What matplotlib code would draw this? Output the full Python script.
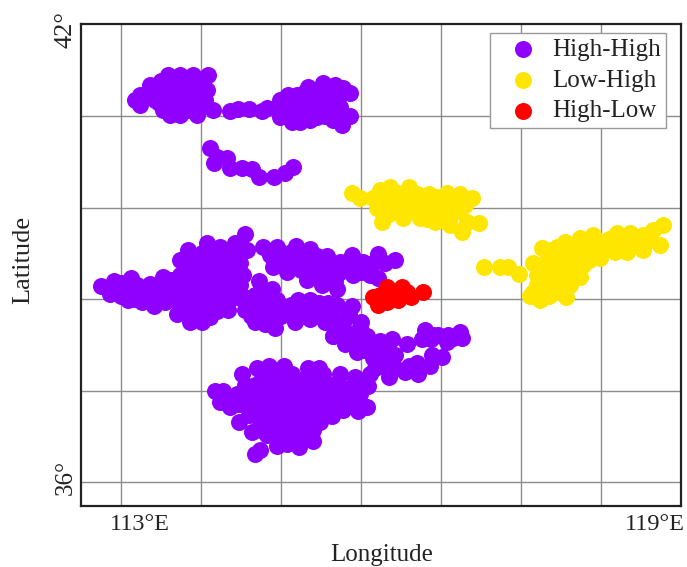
import numpy as np
import matplotlib
matplotlib.use("Agg")
import matplotlib.pyplot as plt

plt.rcParams['font.family'] = ['Liberation Serif', 'DejaVu Serif']

lon_ticks = [113, 114, 115, 116, 117, 118, 119]
lat_ticks = [36, 37.5, 39, 40.5, 42]

hh_north_west = [(113.18,42.26),(113.24,42.18),(113.24,42.34),(113.36,42.51),(113.59,42.67),(113.74,42.67),(113.90,42.67),(114.09,42.67),(114.08,42.43),(114.05,42.26),(113.95,42.02),(113.74,42.02),(113.61,42.02),(113.53,42.10),(114.15,42.10),(113.58,42.51),(113.70,42.43),(113.83,42.51),(113.95,42.51),(113.55,42.34),(113.68,42.26),(113.83,42.34),(113.95,42.26),(113.70,42.10),(113.84,42.10),(113.36,42.34),(113.43,42.26),
                 (113.48,42.42),(113.48,42.22),(113.62,42.58),(113.62,42.38),(113.62,42.18),(113.76,42.58),(113.76,42.34),(113.76,42.18),(113.90,42.42),(113.90,42.15),(114.02,42.55),(114.02,42.38),(114.02,42.16),(113.30,42.30),(113.50,42.58),(113.55,42.12)]
hh_north_east = [(114.36,42.08),(114.46,42.11),(114.60,42.11),(114.76,42.08),(114.83,42.13),(114.99,42.26),(115.09,42.34),(115.20,42.34),(115.34,42.47),(115.53,42.54),(115.68,42.51),(115.78,42.46),(115.86,42.38),(115.86,42.00),(115.76,41.85),(115.65,41.94),(115.36,41.94),(115.24,41.90),(115.14,41.90),(114.99,41.98),(114.95,42.13),(115.15,42.15),(115.33,42.21),(115.49,42.31),(115.65,42.26),(115.74,42.15),(115.40,42.05),(115.24,42.07),(115.58,42.10),(115.40,42.34),
                 (115.30,42.40),(115.45,42.42),(115.60,42.40),(115.75,42.36),(115.05,42.30),(115.20,42.25),(115.35,42.30),(115.60,42.32),(115.05,42.20),(115.20,42.18),(115.45,42.20),(115.55,42.20),(115.05,42.10),(115.15,42.05),(115.30,42.12),(115.48,42.12),(115.68,42.10),(115.10,42.00),(115.28,41.98),(115.45,41.98),(115.55,42.00),(115.70,42.00),(115.78,42.02)]
hh_strip = [(114.11,41.48),(114.20,41.33),(114.16,41.23),(114.33,41.31),(114.36,41.15),(114.51,41.15),(114.64,41.13),(114.73,41.00),(114.91,41.00),(115.05,41.07),(115.15,41.17)]
hh_central = [(112.75,39.22),(112.91,39.29),(113.13,39.34),(113.36,39.25),(113.09,38.98),(112.86,39.09),(113.26,38.96),(113.41,38.88),(113.70,38.75),(113.86,38.63),(114.01,38.63),(114.11,38.70),(114.34,38.83),(114.55,38.83),(113.53,39.37),(113.74,39.65),(113.84,39.81),(114.08,39.92),(114.24,39.86),(114.43,39.92),(114.55,40.07),(114.58,39.81),(114.49,39.60),(114.53,39.40),(114.73,39.29),(114.89,39.16),(114.68,38.63),(114.93,38.53),(115.18,38.63),(115.36,38.67),(115.55,38.62),(115.65,38.39),(115.21,38.99),(115.36,38.99),(115.59,38.94),(115.89,38.89),(116.00,38.62),
              (112.99,39.16),(113.18,39.12),(113.36,39.07),(113.55,39.16),(113.55,38.96),(113.74,39.40),(113.74,39.16),(113.74,38.91),(113.93,39.61),(113.93,39.37),(113.93,39.12),(113.93,38.88),(114.11,39.73),(114.11,39.48),(114.11,39.24),(114.11,38.99),(114.30,39.65),(114.30,39.40),(114.30,39.16),(114.30,38.94),(114.49,39.24),(114.49,39.02),(114.68,39.07),(114.68,38.86),(114.86,38.91),(114.86,38.70),(115.05,38.83),(115.24,38.83),(115.43,38.83),(115.61,38.75),(115.80,38.67),
              (113.83,39.52),(114.01,39.52),(114.20,39.52),(114.39,39.52),(114.01,39.76),(114.20,39.76),(114.39,39.76),(113.64,39.27),(113.83,39.27),(114.01,39.27),(114.20,39.27),(114.39,39.27),(113.64,39.02),(113.83,39.02),(114.01,39.02),(114.20,39.02),(114.39,39.02),(114.58,39.02),(113.83,38.80),(114.01,38.80),(114.20,38.80),
              (112.82,39.18),(113.00,39.27),(113.00,39.05),(113.20,39.24),(113.28,39.12),(113.45,39.18),(113.47,39.00),(113.62,39.32),(113.18,39.00),
              (114.80,39.10),(114.80,38.80),(114.95,38.98),(115.00,38.72),(115.12,38.90),(115.28,38.72),(115.48,38.72),(115.48,38.94),(115.70,38.90),(115.72,38.60),(115.85,38.78),(114.60,38.98),(114.78,38.98),(114.62,38.72),(114.80,38.60)]
hh_branch = [(114.78,39.86),(114.95,39.86),(115.19,39.87),(115.36,39.83),(115.58,39.70),(115.74,39.61),(115.89,39.73),(116.03,39.61),(116.21,39.74),(116.43,39.65),(114.90,39.52),(115.08,39.45),(115.33,39.32),(115.51,39.24),(115.70,39.17),(115.90,39.40),(116.11,39.40),(116.21,39.35),(115.03,39.70),(115.20,39.65),(115.39,39.56),(115.55,39.45),(115.74,39.45),(114.86,39.73),(116.08,39.53),
             (115.10,39.75),(115.28,39.75),(115.45,39.70),(115.45,39.55),(115.62,39.58),(115.62,39.35),(115.80,39.55),(115.95,39.55),(116.15,39.60),(116.30,39.60),(115.25,39.48),(115.40,39.40),(115.85,39.65),(115.05,39.58),(116.00,39.45),(115.68,39.30)]
hh_chain = [(115.65,38.40),(115.83,38.45),(115.78,38.53),(115.99,38.55),(115.95,38.14),(116.08,38.39),(116.24,38.31),(116.39,38.34),(116.58,38.27),(116.43,38.09),(116.15,38.04),(116.26,37.90),(116.35,37.72),(116.55,37.81),(116.71,37.77),(116.70,37.96),(116.86,37.90),(116.89,38.09),(117.01,38.06),(116.80,38.49),(116.76,38.34),(116.96,38.42),(117.09,38.42),(117.08,38.29),(117.24,38.47),(117.26,38.37),
            (115.85,38.30),(116.00,38.25),(116.12,38.20),(116.30,38.15),(116.20,38.05),(116.40,37.92),(116.60,37.90),(116.90,38.42),(117.15,38.36),(116.88,38.35),
            (115.80,38.26),(116.05,38.17),(115.93,38.34),(116.18,38.17),(116.30,38.09),(116.43,37.88),(116.18,37.88)]
hh_south = [(114.18,37.50),(114.28,37.49),(114.24,37.31),(114.36,37.24),(114.48,37.28),(114.51,37.77),(114.70,37.88),(114.85,37.91),(115.04,37.90),(115.34,37.88),(115.48,37.88),(115.74,37.77),(115.93,37.73),(116.11,37.77),(116.09,37.57),(116.08,37.24),(115.96,37.16),(115.78,37.19),(115.64,37.08),(115.49,36.98),(115.40,36.67),(115.23,36.57),(114.95,36.59),(115.08,36.62),(114.83,36.78),(114.64,36.82),(114.48,36.98),(114.68,36.46),(114.74,36.52),
            (114.68,37.60),(114.86,37.68),(115.05,37.68),(115.24,37.68),(115.43,37.68),(115.61,37.60),(115.80,37.52),(115.99,37.44),(114.61,37.44),(114.80,37.44),(114.99,37.44),(115.18,37.44),(115.36,37.44),(115.55,37.36),(115.74,37.36),(115.86,37.28),(114.68,37.19),(114.86,37.19),(115.05,37.19),(115.24,37.19),(115.43,37.19),(114.74,37.00),(114.93,36.95),(115.11,36.95),(115.30,36.95),(115.11,36.75),(115.30,36.78),
            (114.76,37.77),(114.95,37.77),(115.14,37.77),(115.53,37.77),(114.80,37.60),(114.95,37.60),(115.15,37.60),(115.30,37.60),(115.45,37.60),(115.70,37.60),(115.90,37.60),(116.00,37.60),(114.70,37.50),(114.90,37.50),(115.10,37.50),(115.27,37.50),(115.45,37.50),(115.65,37.50),(115.90,37.50),(114.50,37.35),(114.70,37.35),(114.90,37.35),(115.10,37.35),(115.28,37.35),(115.45,37.35),(115.65,37.35),(115.90,37.35),(114.58,37.25),(114.78,37.25),(114.95,37.25),(115.15,37.25),(115.35,37.25),(115.60,37.25),(114.60,37.10),(114.78,37.10),(114.95,37.10),(115.15,37.10),(115.35,37.10),(115.50,37.10),(114.75,36.85),(114.95,36.85),(115.20,36.85),(115.40,36.85),(115.00,36.70),(115.20,36.70),(114.55,37.60),(114.45,37.45),(114.35,37.40)]
lh_north = [(115.89,40.74),(115.99,40.66),(116.15,40.66),(116.24,40.79),(116.36,40.84),(116.60,40.84),(116.85,40.73),(117.08,40.74),(117.24,40.73),(117.39,40.66),(116.26,40.27),(116.53,40.33),(116.74,40.33),(116.93,40.27),(117.26,40.10),(117.48,40.25),(117.33,40.27),(117.11,40.22),(116.20,40.50),(116.28,40.58),(116.45,40.74),(116.45,40.50),(116.61,40.66),(116.64,40.46),(116.83,40.55),(116.99,40.58),(117.15,40.58),(116.99,40.38),(117.15,40.41),
            (116.30,40.72),(116.52,40.70),(116.70,40.72),(116.95,40.68),(117.18,40.65),(116.35,40.40),(116.55,40.55),(116.72,40.55),(116.90,40.42),(116.82,40.32),(117.05,40.28),(117.22,40.45),(117.30,40.55),(116.35,40.58),(116.75,40.45)]
lh_link = [(117.54,39.53),(117.74,39.52),(117.84,39.52),(117.98,39.42)]
lh_east = [(118.24,38.99),(118.11,39.06),(118.56,39.04),(118.43,39.12),(118.20,39.24),(118.15,39.60),(118.26,39.84),(118.36,39.81),(118.55,39.94),(118.74,40.01),(118.90,40.05),(119.20,40.09),(119.36,40.09),(119.53,40.05),(119.65,40.14),(119.78,40.22),(119.74,39.89),(119.53,39.81),(119.33,39.78),(119.18,39.78),(118.99,39.68),(118.74,39.37),(118.61,39.24),(118.36,39.43),(118.36,39.65),(118.53,39.73),(118.65,39.84),(118.83,39.81),(119.03,39.89),(119.20,39.94),(119.40,39.94),(118.58,39.48),(118.78,39.56),(118.24,39.11),(118.45,39.32),(119.61,39.97),(118.24,39.48),
           (118.25,39.30),(118.30,39.60),(118.45,39.50),(118.45,39.70),(118.30,39.20),(118.35,39.05),(118.50,39.20),(118.60,39.35),(118.70,39.50),(118.65,39.70),(118.85,39.65),(119.00,39.78),(118.45,39.85),(118.90,39.92),(119.10,39.98),(119.30,39.95),(119.50,39.92),(118.70,39.92),(118.20,39.40),(118.15,39.12),(118.38,39.24)]
hl_points = [(116.15,39.04),(116.21,38.91),(116.33,38.96),(116.46,38.99),(116.63,39.04),(116.78,39.12),(116.33,39.20),(116.51,39.20),(116.24,39.07),(116.40,39.11),(116.58,39.11),(116.25,39.00),(116.40,39.02),(116.50,39.08)]

high_high = np.array(hh_north_west + hh_north_east + hh_strip + hh_central + hh_branch + hh_chain + hh_south)
low_high = np.array(lh_north + lh_link + lh_east)
high_low = np.array(hl_points)

W, H = 687, 567
fig = plt.figure(figsize=(W/100, H/100), dpi=100)
ax = fig.add_axes([81/W, 1-506/H, 600/W, 482/H])
ax.set_xlim(112.5, 120)
ax.set_ylim(35.61, 43.51)
ax.set_xticks(lon_ticks)
ax.set_yticks(lat_ticks)
ax.tick_params(length=0, labelbottom=False, labelleft=False)
ax.grid(True, color='#8c8c8c', lw=1.0)
ax.set_axisbelow(True)
for sp in ax.spines.values():
    sp.set_linewidth(1.6)
    sp.set_color('#222222')

s = 150
ax.scatter(high_high[:,0], high_high[:,1], s=s, c='#9000FF', linewidths=0, label='High-High', zorder=3)
ax.scatter(low_high[:,0], low_high[:,1], s=s, c='#FFE600', linewidths=0, label='Low-High', zorder=3)
ax.scatter(high_low[:,0], high_low[:,1], s=s, c='#FF0000', linewidths=0, label='High-Low', zorder=4)

leg = ax.legend(loc='upper left', bbox_to_anchor=((490-81)/600, 1-(33-24)/482), borderaxespad=0,
                fontsize=18, frameon=True, fancybox=False, edgecolor='#999999', framealpha=1,
                labelspacing=0.33, handletextpad=0.1, borderpad=0.22, handlelength=2.16, labelcolor='#222222')
leg.get_frame().set_linewidth(1.0)
leg.set_zorder(5)

tc = '#222222'
fig.text(139.5/W, 1-524/H, '113°E', ha='center', va='center', fontsize=17.5, color=tc)
fig.text(655/W, 1-524/H, '119°E', ha='center', va='center', fontsize=17.5, color=tc)
fig.text(381.5/W, 1-555/H, 'Longitude', ha='center', va='center', fontsize=18, color=tc)
fig.text(23/W, 1-260/H, 'Latitude', ha='center', va='center', rotation=90, fontsize=19, color=tc)
fig.text(66/W, 1-30/H, '42°', ha='center', va='center', rotation=90, fontsize=19, color=tc)
fig.text(66/W, 1-477/H, '36°', ha='center', va='center', rotation=90, fontsize=18, color=tc)

fig.savefig('out.png', dpi=100)
